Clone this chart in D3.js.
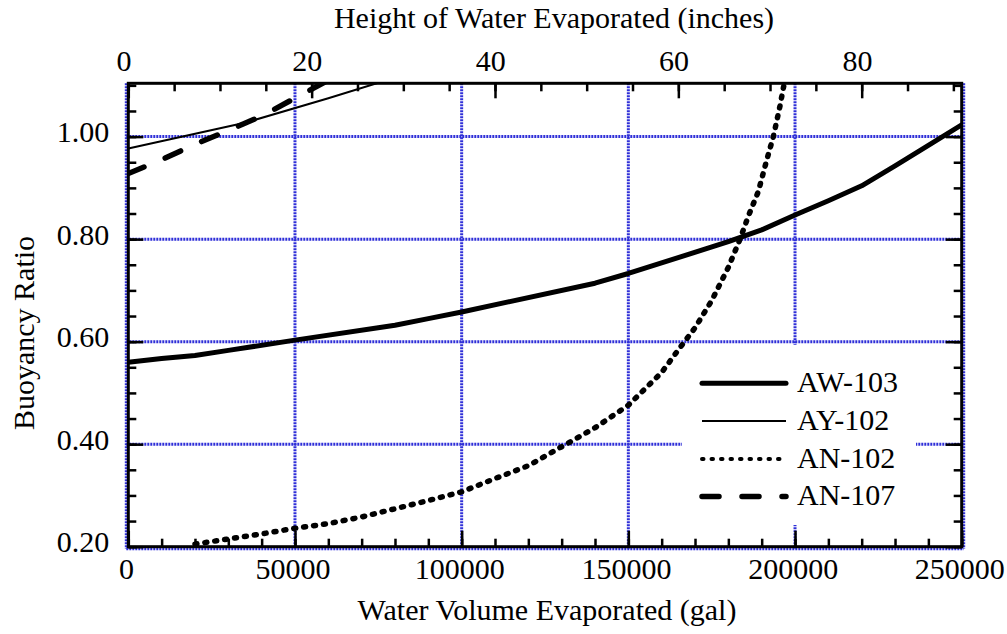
<!DOCTYPE html>
<html>
<head>
<meta charset="utf-8">
<script src="https://cdn.jsdelivr.net/npm/d3@7"></script>
<style>
  body { margin: 0; background: #fff; }
  svg { display: block; }
  text { font-family: "Liberation Serif", "Times New Roman", serif; fill: #000; }
</style>
</head>
<body>
<svg id="chart"></svg>
<script>
var width = 1007;
var height = 634;

// gallons evaporated vs buoyancy ratio
var aw103X = [0, 10000, 20000, 30000, 50000, 80000, 90000, 100000, 140000, 150000, 180000, 190000, 200000, 210000, 220000, 230000, 240000, 250000];
var aw103Y = [0.560, 0.567, 0.573, 0.583, 0.603, 0.632, 0.645, 0.658, 0.714, 0.733, 0.795, 0.818, 0.847, 0.875, 0.904, 0.943, 0.983, 1.023];

var ay102X = [0, 35000, 60000, 75000];
var ay102Y = [0.977, 1.027, 1.075, 1.105];

var an102X = [20000, 30000, 40000, 50000, 60000, 70000, 80000, 90000, 100000, 110000, 120000, 130000, 140000, 150000, 160000, 165000, 170000, 175000, 180000, 183500, 186000, 189000, 191500, 193500, 195500, 196500, 197000];
var an102Y = [0.205, 0.215, 0.225, 0.236, 0.245, 0.258, 0.274, 0.290, 0.307, 0.333, 0.358, 0.395, 0.432, 0.476, 0.540, 0.584, 0.627, 0.680, 0.745, 0.800, 0.845, 0.893, 0.954, 1.000, 1.060, 1.095, 1.110];

var an107X = [0, 10000, 20000, 30000, 40000, 50000, 60000];
var an107Y = [0.928, 0.955, 0.985, 1.012, 1.040, 1.075, 1.110];

var seriesNames = ["AW-103", "AY-102", "AN-102", "AN-107"];

var xMajor = [0, 50000, 100000, 150000, 200000, 250000];
var xMinor = d3.range(0, 250001, 10000);
var inMajor = [0, 20, 40, 60, 80];
var inMinor = d3.range(0, 91, 5);
var yMajor = [0.2, 0.4, 0.6, 0.8, 1.0];
var yMinor = d3.range(0.2, 1.101, 0.05);
var xGrid = [0, 50000, 100000, 150000, 200000, 250000];
var yGrid = [0.2, 0.4, 0.6, 0.8, 1.0];

var galPerInch = 2750;

var pLeft = 128.3, pRight = 961.7, pTop = 83.3, pBottom = 546.7;
var fs = "30px";

var x = d3.scaleLinear().domain([0, 250000]).range([pLeft, pRight]);
var xIn = d3.scaleLinear().domain([0, 250000 / galPerInch]).range([pLeft, pRight]);
var y = d3.scaleLinear().domain([0.2, 1.104]).range([pBottom, pTop]);

var svg = d3.select('#chart')
  .attr('width', width)
  .attr('height', height);

svg.append("defs").append("clipPath").attr("id", "plotclip")
  .append("rect")
  .attr("x", pLeft).attr("y", pTop)
  .attr("width", pRight - pLeft).attr("height", pBottom - pTop);

var gridColor = "#2f2fd8";

// grid
var grid = svg.append("g");
grid.selectAll(".vg").data(xGrid).enter().append("line")
  .attr("x1", function(d){ return x(d) + (d == 250000 ? 2 : (d == 0 ? -2 : 0)); })
  .attr("x2", function(d){ return x(d) + (d == 250000 ? 2 : (d == 0 ? -2 : 0)); })
  .attr("y1", pTop).attr("y2", pBottom + 2)
  .attr("stroke", gridColor).attr("stroke-width", 3)
  .attr("stroke-dasharray", "2,1");
grid.selectAll(".hg").data(yGrid).enter().append("line")
  .attr("x1", pLeft - 2).attr("x2", pRight + 2)
  .attr("y1", function(d){ return y(d) + (d == 0.2 ? 2 : 0); })
  .attr("y2", function(d){ return y(d) + (d == 0.2 ? 2 : 0); })
  .attr("stroke", gridColor).attr("stroke-width", 3)
  .attr("stroke-dasharray", "2,1");

// legend box hides grid behind it
svg.append("rect")
  .attr("x", 682).attr("y", 345)
  .attr("width", 234).attr("height", 180)
  .attr("fill", "#fff");

var styles = [
  {w: 5, dash: null, cap: "round"},
  {w: 2, dash: null, cap: "butt"},
  {w: 5.5, dash: "2,8", cap: "round"},
  {w: 5.5, dash: "17,23", cap: "round"}
];

var line = d3.line()
  .x(function(d){ return x(d[0]); })
  .y(function(d){ return y(d[1]); });

var allData = [
  d3.zip(aw103X, aw103Y),
  d3.zip(ay102X, ay102Y),
  d3.zip(an102X, an102Y),
  d3.zip(an107X, an107Y)
];

var lines = svg.append("g").attr("clip-path", "url(#plotclip)");
lines.selectAll("path").data(allData).enter().append("path")
  .attr("d", line)
  .attr("fill", "none")
  .attr("stroke", "#000")
  .attr("stroke-width", function(d, i){ return styles[i].w; })
  .attr("stroke-dasharray", function(d, i){ return styles[i].dash; })
  .attr("stroke-linecap", function(d, i){ return styles[i].cap; })
  .attr("stroke-linejoin", "round");

// axes
function styleAxis(g){
  g.select(".domain").remove();
  g.selectAll(".tick line").attr("stroke", "#000").attr("stroke-width", 2.5);
  g.selectAll(".tick text").style("font-size", fs).attr("font-family", null);
}

svg.append("g").attr("transform", "translate(0," + pBottom + ")")
  .call(d3.axisBottom(x).tickValues(xMinor).tickSize(-8).tickSizeOuter(0).tickFormat(""))
  .call(styleAxis);
svg.append("g").attr("transform", "translate(0," + pBottom + ")")
  .call(d3.axisBottom(x).tickValues(xMajor).tickSize(-16).tickSizeOuter(0).tickPadding(11).tickFormat(d3.format("d")))
  .call(styleAxis)
  .selectAll(".tick text").attr("dx", "-0.08em");

svg.append("g").attr("transform", "translate(0," + pTop + ")")
  .call(d3.axisTop(xIn).tickValues(inMinor).tickSize(-8).tickSizeOuter(0).tickFormat(""))
  .call(styleAxis);
svg.append("g").attr("transform", "translate(0," + pTop + ")")
  .call(d3.axisTop(xIn).tickValues(inMajor).tickSize(-15).tickSizeOuter(0).tickPadding(12).tickFormat(d3.format("d")))
  .call(styleAxis)
  .selectAll(".tick text").attr("dx", "-0.16em");

svg.append("g").attr("transform", "translate(" + pLeft + ",0)")
  .call(d3.axisLeft(y).tickValues(yMinor).tickSize(-8).tickSizeOuter(0).tickFormat(""))
  .call(styleAxis);
svg.append("g").attr("transform", "translate(" + pLeft + ",0)")
  .call(d3.axisLeft(y).tickValues(yMajor).tickSize(-15).tickSizeOuter(0).tickPadding(19).tickFormat(d3.format(".2f")))
  .call(styleAxis)
  .selectAll(".tick text").attr("dy", "0.17em");

svg.append("g").attr("transform", "translate(" + pRight + ",0)")
  .call(d3.axisRight(y).tickValues(yMinor).tickSize(-8).tickSizeOuter(0).tickFormat(""))
  .call(styleAxis);
svg.append("g").attr("transform", "translate(" + pRight + ",0)")
  .call(d3.axisRight(y).tickValues(yMajor).tickSize(-16).tickSizeOuter(0).tickFormat(""))
  .call(styleAxis);

// frame
svg.append("rect")
  .attr("x", pLeft).attr("y", pTop)
  .attr("width", pRight - pLeft).attr("height", pBottom - pTop)
  .attr("fill", "none").attr("stroke", "#000").attr("stroke-width", 3);

// titles
svg.append("text")
  .attr("x", 547).attr("y", 620)
  .attr("text-anchor", "middle")
  .style("font-size", fs)
  .text("Water Volume Evaporated (gal)");

svg.append("text")
  .attr("x", 554).attr("y", 28)
  .attr("text-anchor", "middle")
  .style("font-size", fs)
  .text("Height of Water Evaporated (inches)");

svg.append("text")
  .attr("transform", "translate(34,333) rotate(-90)")
  .attr("text-anchor", "middle")
  .style("font-size", fs)
  .text("Buoyancy Ratio");

// legend
var legY = [383.3, 421, 459, 496.5];
var leg = svg.append("g");
seriesNames.forEach(function(name, i){
  var s = styles[i];
  leg.append("line")
    .attr("x1", 702).attr("x2", 786)
    .attr("y1", legY[i]).attr("y2", legY[i])
    .attr("stroke", "#000")
    .attr("stroke-width", i == 2 ? 4 : s.w)
    .attr("stroke-dasharray", i == 2 ? "1.5,8" : s.dash)
    .attr("stroke-linecap", s.cap);
  leg.append("text")
    .attr("x", 797).attr("y", legY[i] + 8.6)
    .style("font-size", fs)
    .text(name);
});
</script>
</body>
</html>
